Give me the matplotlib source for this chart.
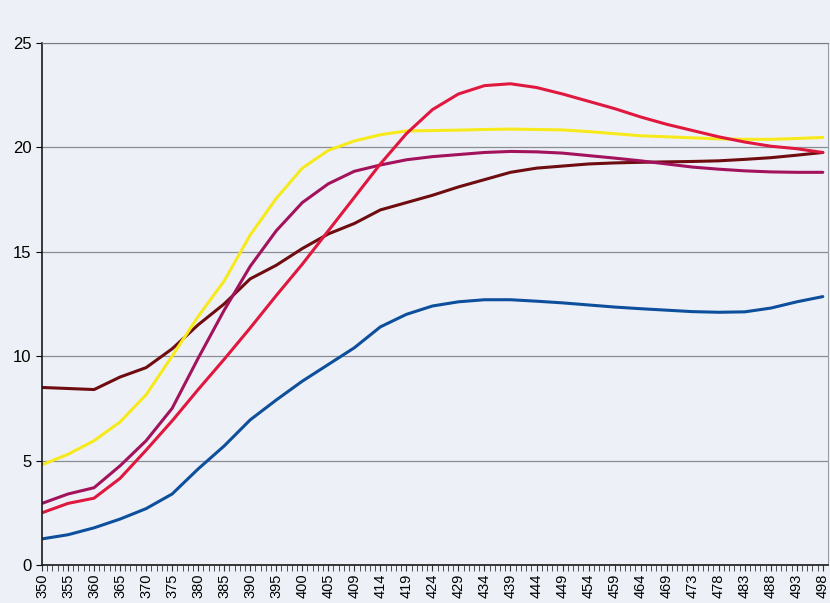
import matplotlib
matplotlib.use("Agg")
import matplotlib.pyplot as plt

plt.rcParams['font.family'] = ['Liberation Sans', 'DejaVu Sans']

# wavelength labels, one every 5 readings (151 readings, 350..498)
wl_labels = [350, 355, 360, 365, 370, 375, 380, 385, 390, 395, 400, 405, 409, 414, 419,
             424, 429, 434, 439, 444, 449, 454, 459, 464, 469, 473, 478, 483, 488, 493, 498]
n_points = 151
label_idx = list(range(0, n_points, 5))

# values read at every labelled wavelength
yellow = [4.8, 5.3, 5.95, 6.85, 8.15, 10.0, 11.9, 13.6, 15.8, 17.55, 19.0, 19.85, 20.3, 20.6, 20.78,
          20.8, 20.82, 20.85, 20.87, 20.85, 20.83, 20.75, 20.65, 20.55, 20.5, 20.45, 20.4, 20.38,
          20.38, 20.42, 20.47]
purple = [2.95, 3.4, 3.7, 4.75, 5.95, 7.5, 9.9, 12.2, 14.3, 16.0, 17.35, 18.25, 18.85, 19.15, 19.4,
          19.55, 19.65, 19.75, 19.8, 19.78, 19.72, 19.6, 19.48, 19.35, 19.2, 19.05, 18.95, 18.87,
          18.82, 18.8, 18.8]
red = [2.5, 2.95, 3.2, 4.15, 5.5, 6.9, 8.4, 9.85, 11.35, 12.9, 14.4, 16.0, 17.6, 19.2, 20.65,
       21.8, 22.55, 22.95, 23.04, 22.86, 22.55, 22.2, 21.85, 21.45, 21.1, 20.8, 20.5, 20.25,
       20.05, 19.93, 19.75]
brown = [8.5, 8.45, 8.4, 9.0, 9.45, 10.35, 11.5, 12.5, 13.7, 14.35, 15.15, 15.85, 16.35, 17.0, 17.35,
         17.7, 18.1, 18.45, 18.8, 19.0, 19.1, 19.2, 19.25, 19.28, 19.3, 19.32, 19.35, 19.42,
         19.5, 19.62, 19.75]
blue = [1.25, 1.45, 1.78, 2.2, 2.7, 3.4, 4.6, 5.7, 6.95, 7.9, 8.8, 9.6, 10.4, 11.4, 12.0,
        12.4, 12.6, 12.7, 12.7, 12.63, 12.55, 12.45, 12.35, 12.27, 12.2, 12.13, 12.1, 12.12,
        12.3, 12.6, 12.85]

bg = '#edf1f7'
fig = plt.figure(figsize=(8.3, 6.03), dpi=100, facecolor=bg)
ax = fig.add_axes([0.0506, 0.063, 0.947, 0.866])
ax.set_facecolor(bg)

series = [(brown, '#6e0c10'), (blue, '#0d4f9c'), (yellow, '#f7ea1c'),
          (purple, '#a3125c'), (red, '#e0173f')]
for vals, col in series:
    ax.plot(label_idx, vals, color=col, linewidth=2.2, solid_capstyle='round')

ax.set_xlim(0, 151)
ax.set_ylim(0, 25)
ax.set_yticks([0, 5, 10, 15, 20, 25])
ax.yaxis.grid(True, color='#8a8e94', linewidth=0.9)
ax.set_axisbelow(True)

ax.set_xticks(label_idx)
ax.set_xticklabels([str(w) for w in wl_labels], rotation=90)
ax.set_xticks(range(n_points), minor=True)
ax.tick_params(axis='x', which='both', length=4, direction='out', color='#333333')
ax.tick_params(axis='y', length=4, direction='out', labelsize=12)
ax.tick_params(axis='x', labelsize=10.5, pad=2)

for s in ['left', 'bottom']:
    ax.spines[s].set_color('#1a1a1a')
    ax.spines[s].set_linewidth(1.2)
ax.spines['top'].set_color('#7a7e84')
ax.spines['right'].set_color('#9aa0a8')

fig.savefig('out.png', dpi=100, facecolor=bg)
